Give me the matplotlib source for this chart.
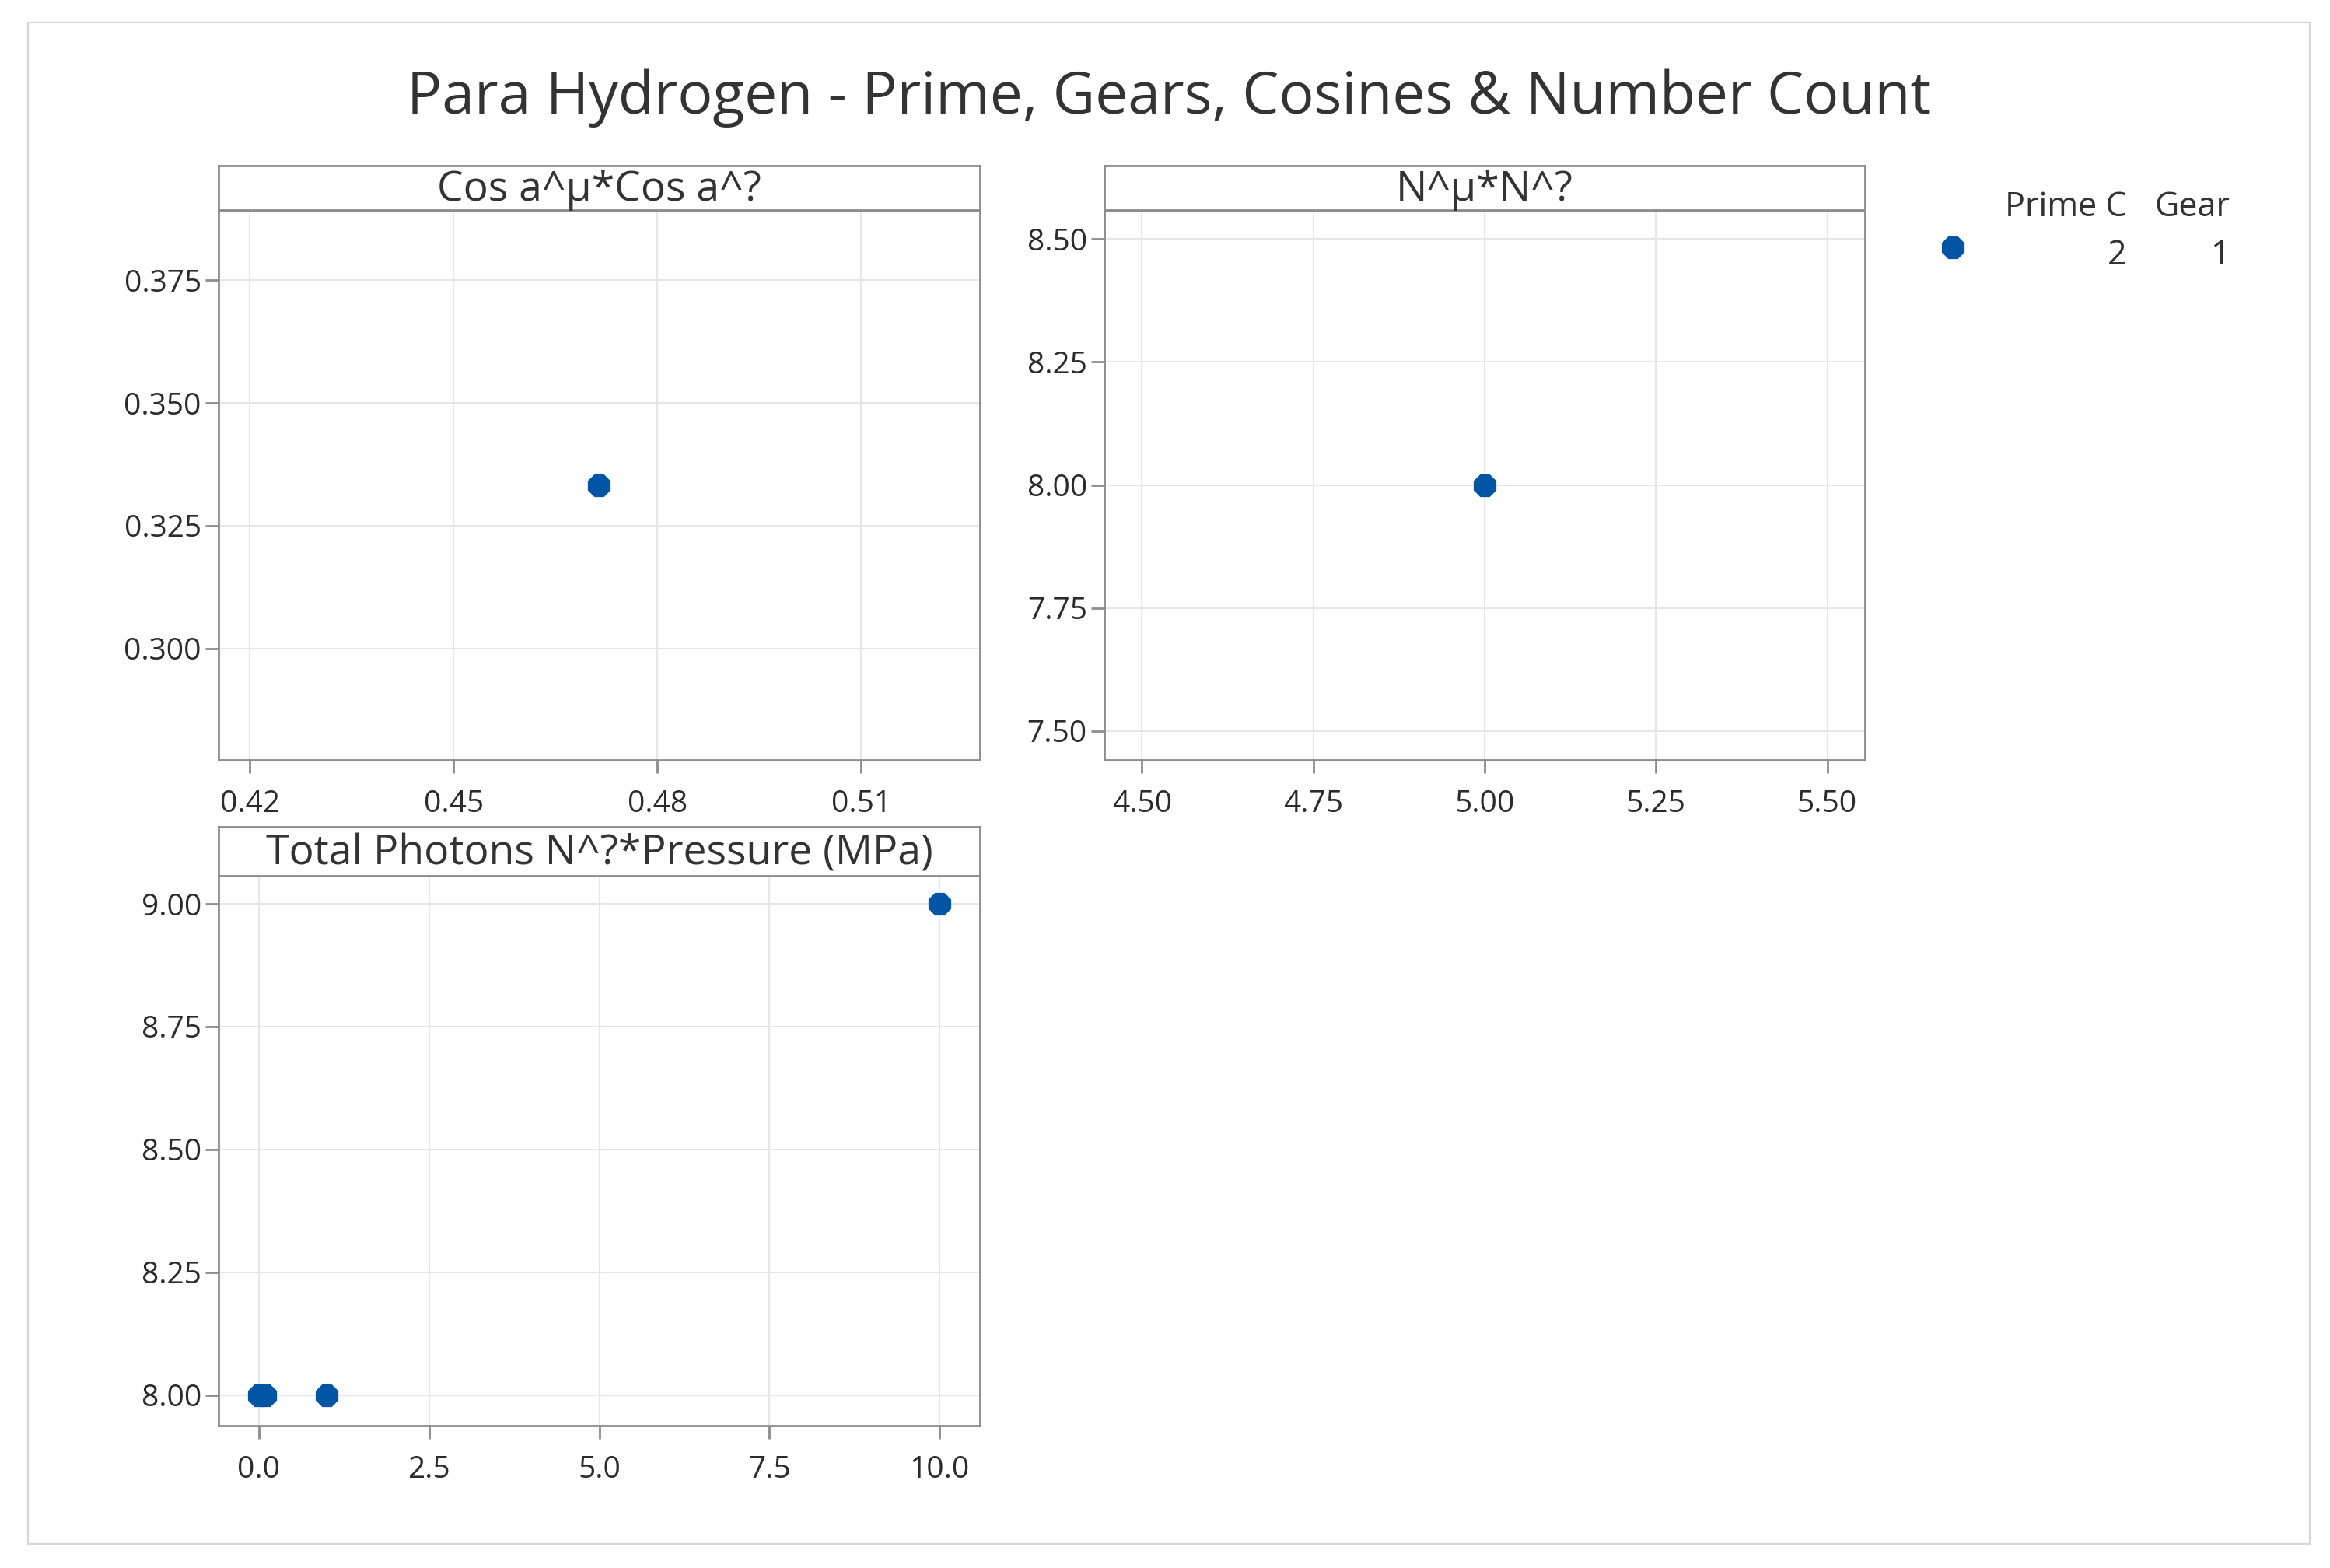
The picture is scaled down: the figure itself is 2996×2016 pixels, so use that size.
import matplotlib
matplotlib.use("Agg")
import matplotlib.pyplot as plt
from matplotlib.patches import Rectangle

plt.rcParams['font.family'] = ['Open Sans', 'DejaVu Sans']

# data
cos_x = [0.4714]
cos_y = [0.3333]
n_x = [5.0]
n_y = [8.0]
photon_x = [0.0, 0.1, 1.0, 10.0]
photon_y = [8.0, 8.0, 8.0, 9.0]
prime_c = [2]
gear = [1]

title = "Para Hydrogen - Prime, Gears, Cosines & Number Count"
strip_titles = ["Cos a^\u00b5*Cos a^?", "N^\u00b5*N^?", "Total Photons N^?*Pressure (MPa)"]

blue = "#0055a5"
spine_col = "#8c8c8c"
grid_col = "#e6e6e6"
txt_col = "#2b2b2b"

W, H = 2996, 2016
fig = plt.figure(figsize=(W / 100, H / 100), dpi=100)

def box(l, t, r, b):
    # pixel box -> figure fraction
    return [l / W, 1 - b / H, (r - l) / W, (b - t) / H]

fig.patches.append(Rectangle((36 / W, 1 - 1985 / H), (2970 - 36) / W, (1985 - 29) / H,
                             transform=fig.transFigure, fill=False,
                             edgecolor="#d6d6d6", linewidth=1.6))

fig.text(1503 / W, 1 - 126 / H, title, ha='center', va='center',
         fontsize=54, color="#333333")

def panel(rect, strip_rect, xs, ys, xlim, ylim, xticks, yticks, xfmt, yfmt, label):
    ax = fig.add_axes(box(*rect))
    ax.scatter(xs, ys, s=520, color=blue, marker='8', zorder=3, linewidths=0)
    ax.set_xlim(*xlim)
    ax.set_ylim(*ylim)
    ax.set_xticks(xticks)
    ax.set_yticks(yticks)
    ax.set_xticklabels([xfmt.format(v) for v in xticks])
    ax.set_yticklabels([yfmt.format(v) for v in yticks])
    ax.grid(True, color=grid_col, linewidth=1.5, zorder=0)
    ax.set_axisbelow(True)
    for sp in ax.spines.values():
        sp.set_color(spine_col)
        sp.set_linewidth(2)
    ax.tick_params(axis='both', length=12, width=2, color=spine_col,
                   labelsize=28, labelcolor=txt_col)
    ax.tick_params(axis='x', pad=15)
    ax.tick_params(axis='y', pad=4)

    st = fig.add_axes(box(*strip_rect))
    st.set_xticks([])
    st.set_yticks([])
    for sp in st.spines.values():
        sp.set_color(spine_col)
        sp.set_linewidth(2)
    st.text(0.5, 0.45, label, ha='center', va='center', fontsize=38.5,
            color="#333333", transform=st.transAxes)
    return ax

panel((281, 270, 1260, 977), (281, 213, 1260, 270), cos_x, cos_y,
      (0.4154, 0.5275), (0.2773, 0.3893),
      [0.42, 0.45, 0.48, 0.51], [0.300, 0.325, 0.350, 0.375],
      "{:.2f}", "{:.3f}", strip_titles[0])

panel((1420, 270, 2398, 977), (1420, 213, 2398, 270), n_x, n_y,
      (4.445, 5.555), (7.441, 8.559),
      [4.50, 4.75, 5.00, 5.25, 5.50], [7.50, 7.75, 8.00, 8.25, 8.50],
      "{:.2f}", "{:.2f}", strip_titles[1])

panel((281, 1126, 1260, 1833), (281, 1063, 1260, 1126), photon_x, photon_y,
      (-0.59, 10.59), (7.938, 9.057),
      [0.0, 2.5, 5.0, 7.5, 10.0], [8.00, 8.25, 8.50, 8.75, 9.00],
      "{:.1f}", "{:.2f}", strip_titles[2])

# legend block
lg = fig.add_axes(box(2460, 230, 2900, 360))
lg.set_xlim(2460, 2900)
lg.set_ylim(360, 230)
lg.axis('off')
lg.scatter([2511], [318], s=520, color=blue, marker='8', linewidths=0, clip_on=False)
lg.text(2735, 278, "Prime C", ha='right', va='baseline', fontsize=31, color="#333333")
lg.text(2867, 278, "Gear", ha='right', va='baseline', fontsize=31, color="#333333")
lg.text(2735, 340, str(prime_c[0]), ha='right', va='baseline', fontsize=31, color="#333333")
lg.text(2867, 340, str(gear[0]), ha='right', va='baseline', fontsize=31, color="#333333")

fig.savefig("out.png", dpi=100)
